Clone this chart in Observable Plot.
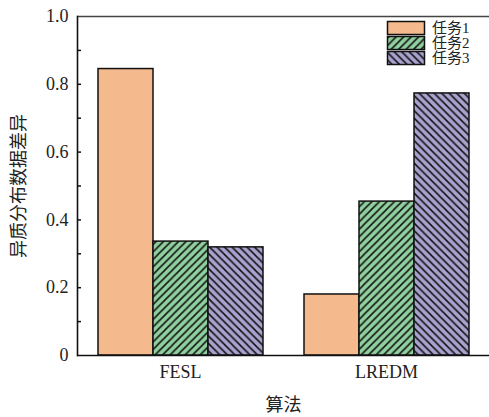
<!DOCTYPE html>
<html>
<head>
<meta charset="utf-8">
<script src="https://cdn.jsdelivr.net/npm/d3@7"></script>
<script src="https://cdn.jsdelivr.net/npm/@observablehq/plot@0.6"></script>
<style>
  html, body { margin: 0; padding: 0; background: #fff; }
  #wrap { position: relative; width: 489px; height: 417px; overflow: hidden; }
  #legend { position: absolute; left: 384px; top: 19px; }
</style>
</head>
<body>
<svg width="0" height="0" style="position:absolute">
  <defs>
    <pattern id="hatchG" patternUnits="userSpaceOnUse" width="7.5" height="7.5">
      <rect width="7.5" height="7.5" fill="#8fd09e"></rect>
      <path d="M-2,2 l4,-4 M0,7.5 l7.5,-7.5 M5.5,9.5 l4,-4" stroke="#111" stroke-width="1.5"></path>
    </pattern>
    <pattern id="hatchP" patternUnits="userSpaceOnUse" width="7.5" height="7.5">
      <rect width="7.5" height="7.5" fill="#a9a1ce"></rect>
      <path d="M-2,5.5 l4,4 M0,0 l7.5,7.5 M5.5,-2 l4,4" stroke="#111" stroke-width="1.5"></path>
    </pattern>
  </defs>
</svg>
<div id="wrap"></div>
<script>
const algorithms = ["FESL", "LREDM"];
const tasks = ["任务1", "任务2", "任务3"];
const task1 = [0.845, 0.180];
const task2 = [0.336, 0.454];
const task3 = [0.319, 0.773];
const yTicks = [0, 0.2, 0.4, 0.6, 0.8, 1.0];
const yMinorTicks = [0.1, 0.2, 0.3, 0.4, 0.5, 0.6, 0.7, 0.8, 0.9];
const fills = ["#f4ba8e", "url(#hatchG)", "url(#hatchP)"];

const series = [task1, task2, task3];
const rows = [];
algorithms.forEach((a, i) => tasks.forEach((t, j) => rows.push({alg: a, task: t, value: series[j][i]})));

const font = "'Liberation Serif', 'Noto Sans CJK SC', serif";

const chart = Plot.plot({
  width: 489, height: 417,
  marginLeft: 77, marginRight: 0, marginTop: 16, marginBottom: 62,
  style: {fontFamily: font, fontSize: "18px", color: "#222", background: "white", overflow: "visible"},
  fx: {domain: algorithms, padding: 0, label: null},
  x: {domain: tasks, paddingInner: 0, paddingOuter: 0.34, axis: null},
  y: {domain: [0, 1], label: null, axis: null},
  color: {type: "ordinal", domain: tasks, range: fills},
  marks: [
    Plot.barY(rows, {fx: "alg", x: "task", y: "value", fill: "task", stroke: "#111", strokeWidth: 1.5}),
    Plot.ruleY([0], {stroke: "#111", strokeWidth: 1.6}),
    Plot.ruleY([1], {stroke: "#444", strokeWidth: 1.6}),
    Plot.frame({anchor: "left", facetAnchor: "left", stroke: "#111", strokeWidth: 1.6}),
    Plot.axisY({ticks: yMinorTicks, tickSize: -4, tickFormat: () => "", stroke: "#111", strokeWidth: 1.5, label: null}),
    Plot.axisY({ticks: yTicks, tickSize: 0, tickPadding: 9, fontSize: 18,
      tickFormat: d => d === 0 ? "0" : d.toFixed(1),
      label: "异质分布数据差异", labelAnchor: "center", labelArrow: false, labelOffset: 65}),
    Plot.axisFx({anchor: "bottom", tickSize: 0, tickPadding: 10, fontSize: 18,
      label: "算法", labelAnchor: "center", labelArrow: false, labelOffset: 55})
  ]
});
document.getElementById("wrap").appendChild(chart);

// legend
const lg = d3.select("#wrap").append("svg").attr("id", "legend")
  .attr("width", 105).attr("height", 52);
const item = lg.selectAll("g").data(tasks).join("g")
  .attr("transform", (d, i) => `translate(0,${i * 15})`);
item.append("rect").attr("x", 3.5).attr("y", 2.5).attr("width", 37).attr("height", 13)
  .attr("fill", (d, i) => fills[i]).attr("stroke", "#111").attr("stroke-width", 1.5);
item.append("text").attr("x", 48).attr("y", 9).attr("dy", "0.36em")
  .attr("font-family", font).attr("font-size", 15)
  .attr("fill", "#222").text(d => d);
</script>
</body>
</html>
